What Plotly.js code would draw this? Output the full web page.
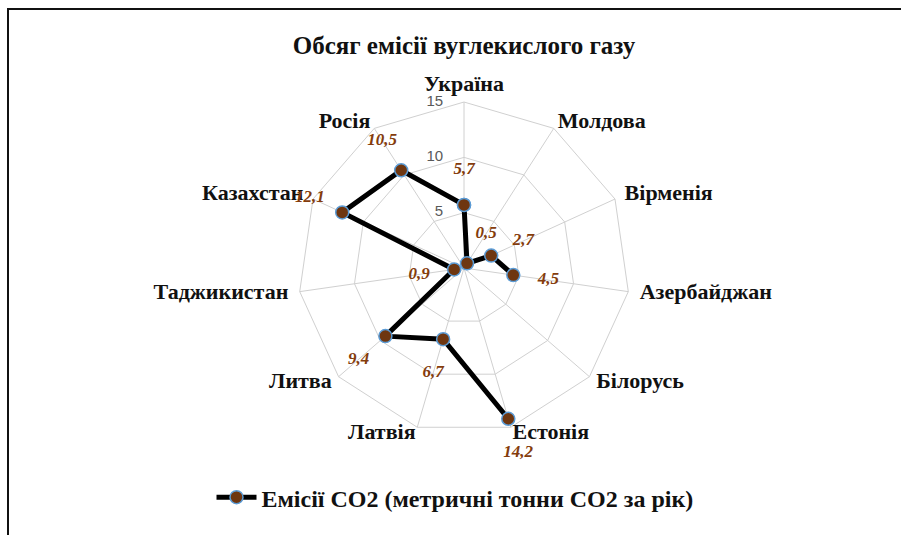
<!DOCTYPE html>
<html>
<head>
<meta charset="utf-8">
<script src="https://cdn.plot.ly/plotly-3.0.1.min.js"></script>
<style>
  html, body { margin: 0; padding: 0; background: #fff; }
  #chart { width: 901px; height: 535px; position: relative; }
  #frame { position: absolute; left: 7px; top: 8px; width: 900px; height: 540px;
           border-top: 2px solid #111; border-left: 2px solid #111; pointer-events: none; }
</style>
</head>
<body>
<div id="chart"></div>
<div id="frame"></div>
<script>
const categories = ['Україна', 'Молдова', 'Вірменія', 'Азербайджан', 'Білорусь', 'Естонія',
                    'Латвія', 'Литва', 'Таджикистан', 'Казахстан', 'Росія'];
const emissions = [5.7, 0.5, 2.7, 4.5, null, 14.2, 6.7, 9.4, 0.9, 12.1, 10.5];
const seriesName = 'Емісії СО2 (метричні тонни СО2 за рік)';
const chartTitle = 'Обсяг емісії вуглекислого газу';
const radialTicks = [0, 5, 10, 15];

const radialMax = 15;
// close the loop
const thetaLoop = categories.concat([categories[0]]);
const rLoop = emissions.concat([emissions[0]]);

// Texts are drawn on an invisible overlay polar subplot with the same centre
// and scale but a larger extent, so texts beyond 15 are not hidden.
const labelOffset = 3.2;
const labelR = emissions.map(v => v === null ? null : v + labelOffset);
const labelText = emissions.map(v => v === null ? '' : v.toFixed(1).replace('.', ','));

const catGap = 0.5, catSideGap = 0.55;
const catAngles = categories.map((c, i) => (90 - i * 360 / categories.length) * Math.PI / 180);
const catR = catAngles.map(a => radialMax + catGap + catSideGap * Math.cos(a) * Math.cos(a));
const catPos = catAngles.map(a => {
  const cs = Math.cos(a), sn = Math.sin(a);
  if (cs > 0.25) return 'middle right';
  if (cs < -0.25) return 'middle left';
  return sn > 0 ? 'top center' : 'bottom center';
});

const serif = '"Liberation Serif", "Times New Roman", serif';
const gridColor = '#d0d0d0';
const polarDomain = { x: [0.3307, 0.6993], y: [0.1888, 0.8093] };
const overlayK = 1.4;
function grow(d, k) {
  const c = (d[0] + d[1]) / 2, h = (d[1] - d[0]) / 2 * k;
  return [c - h, c + h];
}
const overlayDomain = { x: grow(polarDomain.x, overlayK), y: grow(polarDomain.y, overlayK) };

const traces = [
  {
    type: 'scatterpolar',
    subplot: 'polar',
    r: rLoop,
    theta: thetaLoop,
    mode: 'lines+markers',
    name: seriesName,
    connectgaps: false,
    line: { color: '#000000', width: 5 },
    marker: { size: 13, color: '#6e3610', line: { color: '#5b9bd5', width: 1.5 } },
    hoverinfo: 'skip'
  },
  {
    type: 'scatterpolar',
    subplot: 'polar2',
    r: catR,
    theta: categories,
    mode: 'text',
    text: categories,
    textposition: catPos,
    textfont: { family: serif, size: 22, color: '#111', weight: 'bold' },
    cliponaxis: false,
    showlegend: false,
    hoverinfo: 'skip'
  },
  {
    type: 'scatterpolar',
    subplot: 'polar2',
    r: radialTicks,
    theta: radialTicks.map(() => categories[0]),
    mode: 'text',
    text: radialTicks.map(t => String(t) + '\u00a0\u00a0\u00a0\u00a0\u00a0'),
    textposition: 'middle left',
    textfont: { family: '"Liberation Sans", Arial, sans-serif', size: 15, color: '#595959' },
    cliponaxis: false,
    showlegend: false,
    hoverinfo: 'skip'
  },
  {
    type: 'scatterpolar',
    subplot: 'polar2',
    r: labelR,
    theta: categories,
    mode: 'text',
    text: labelText,
    textfont: { family: serif, size: 17, color: '#843c0c', weight: 'bold', style: 'italic' },
    cliponaxis: false,
    showlegend: false,
    hoverinfo: 'skip'
  }
];

const layout = {
  width: 901,
  height: 535,
  margin: { l: 0, r: 0, t: 0, b: 0 },
  paper_bgcolor: '#ffffff',
  title: {
    text: '<b>' + chartTitle + '</b>',
    font: { family: serif, size: 25, color: '#111' },
    x: 0.515, xanchor: 'center',
    y: 0.915, yanchor: 'middle'
  },
  polar: {
    domain: polarDomain,
    bgcolor: '#ffffff',
    gridshape: 'linear',
    radialaxis: {
      range: [0, radialMax],
      tickvals: radialTicks,
      showticklabels: false,
      angle: 90,
      showline: false,
      ticks: '',
      gridcolor: gridColor,
      gridwidth: 1
    },
    angularaxis: {
      type: 'category',
      categoryorder: 'array',
      categoryarray: categories,
      rotation: 90,
      direction: 'clockwise',
      showline: true,
      linecolor: gridColor,
      linewidth: 1,
      gridcolor: gridColor,
      ticks: '',
      showticklabels: false
    }
  },
  polar2: {
    domain: overlayDomain,
    bgcolor: 'rgba(0,0,0,0)',
    gridshape: 'linear',
    radialaxis: { range: [0, radialMax * overlayK], visible: false, showgrid: false },
    angularaxis: {
      type: 'category',
      categoryorder: 'array',
      categoryarray: categories,
      rotation: 90,
      direction: 'clockwise',
      visible: false,
      showgrid: false,
      showline: false
    }
  },
  showlegend: true,
  legend: {
    orientation: 'h',
    x: 0.505, xanchor: 'center',
    y: 0.07, yanchor: 'middle',
    font: { family: serif, size: 24, color: '#111', weight: 'bold' },
    itemwidth: 40
  }
};

Plotly.newPlot('chart', traces, layout, { displayModeBar: false, staticPlot: true });
</script>
</body>
</html>
